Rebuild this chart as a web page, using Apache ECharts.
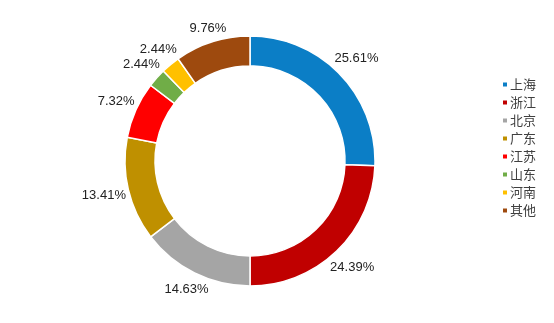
<!DOCTYPE html>
<html>
<head>
<meta charset="utf-8">
<script src="https://cdn.jsdelivr.net/npm/echarts@6/dist/echarts.min.js"></script>
<style>
html,body{margin:0;padding:0;background:#fff;}
#chart{width:554px;height:323px;}
</style>
</head>
<body>
<div id="chart"></div>
<script>
const categories = ['上海', '浙江', '北京', '广东', '江苏', '山东', '河南', '其他'];
const shares = [25.61, 24.39, 14.63, 13.41, 7.32, 2.44, 2.44, 9.76];
const colors = ['#0B7EC6', '#C00000', '#A5A5A5', '#BF9000', '#FF0000', '#70AD47', '#FFC000', '#9E4A0E'];

const CENTER = [250, 161];
const RADII = [95, 125];
const total = shares.reduce((a, b) => a + b, 0);

function midAngle(i) {
  let before = 0;
  for (let k = 0; k < i; k++) before += shares[k];
  return ((before + shares[i] / 2) / total) * 2 * Math.PI;
}

const chart = echarts.init(document.getElementById('chart'), null, {renderer: 'canvas'});
chart.setOption({
  backgroundColor: '#fff',
  animation: false,
  color: colors,
  legend: {
    orient: 'vertical',
    left: 501,
    top: 78,
    padding: 0,
    itemWidth: 6,
    itemHeight: 6,
    itemGap: 5,
    icon: 'rect',
    textStyle: {fontSize: 13, color: '#404040', fontFamily: 'Noto Sans CJK SC', padding: [0, 0, 0, -3]},
    data: categories
  },
  series: [{
    type: 'pie',
    center: CENTER,
    radius: RADII,
    startAngle: 90,
    clockwise: true,
    avoidLabelOverlap: false,
    itemStyle: {borderColor: '#fff', borderWidth: 1.5},
    label: {
      show: true,
      position: 'outside',
      fontSize: 13,
      color: '#222',
      fontFamily: 'Liberation Sans',
      formatter: p => p.value.toFixed(2) + '%'
    },
    labelLine: {show: false},
    labelLayout: function (p) {
      const t = midAngle(p.dataIndex);
      const hw = p.labelRect.width / 2, hh = 7;
      const s = Math.sin(t), c = Math.cos(t);
      const d = RADII[1] + 2 + hw * Math.abs(s) + hh * Math.abs(c);
      return {x: CENTER[0] + d * s, y: CENTER[1] - d * c, align: 'center', verticalAlign: 'middle'};
    },
    emphasis: {disabled: true},
    data: categories.map((n, i) => ({name: n, value: shares[i]}))
  }]
});
</script>
</body>
</html>
